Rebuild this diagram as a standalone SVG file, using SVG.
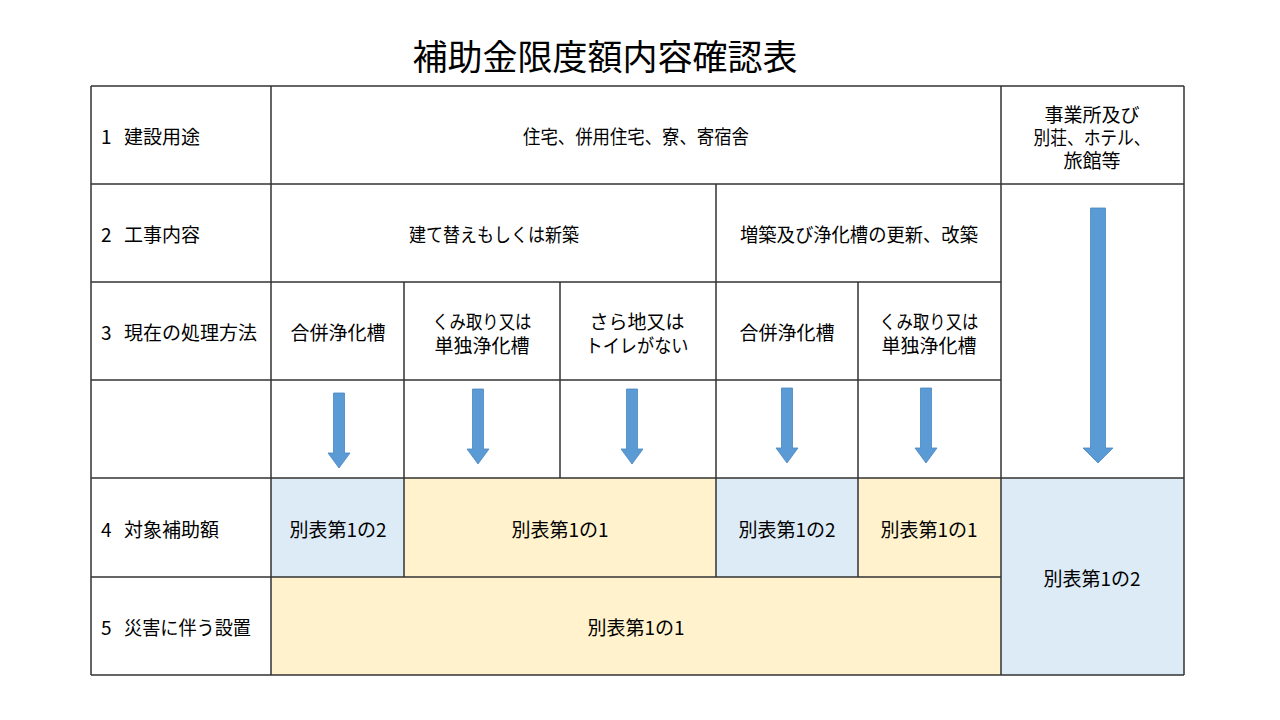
<svg xmlns="http://www.w3.org/2000/svg" width="1280" height="720" viewBox="0 0 1280 720">
<style>
text{font-family:"Noto Sans CJK JP","Noto Sans CJK SC",sans-serif;fill:#000}
.t{font-size:19px;text-anchor:middle;dominant-baseline:central}
.l{font-size:19px;dominant-baseline:central}
.ln{stroke:#333;stroke-width:1.5;fill:none}
.blue{fill:#DDEBF7}
.yel{fill:#FFF2CC}
.arr{fill:#5B9BD5;stroke:#4A86C0;stroke-width:0.8}
</style>
<defs>
<path id="sa" d="M-5.5,0 H5.5 V60 H11 L0,75 L-11,60 H-5.5 Z"/>
</defs>
<rect width="1280" height="720" fill="#fff"/>
<text x="605" y="54" font-size="35" text-anchor="middle" dominant-baseline="central">補助金限度額内容確認表</text>

<g id="fills">
<rect class="blue" x="271" y="478" width="133" height="99"/>
<rect class="yel" x="404" y="478" width="312" height="99"/>
<rect class="blue" x="716" y="478" width="142" height="99"/>
<rect class="yel" x="858" y="478" width="143" height="99"/>
<rect class="yel" x="271" y="577" width="730" height="98"/>
<rect class="blue" x="1001" y="478" width="183" height="197"/>
</g>

<g id="grid">
<path class="ln" d="M91,86 H1184 M91,184 H1184 M91,282 H1001 M91,380 H1001 M91,478 H1184 M91,577 H1001 M91,675 H1184"/>
<path class="ln" d="M91,86 V675 M271,86 V675 M404,282 V577 M560,282 V478 M716,184 V577 M858,282 V577 M1001,86 V675 M1184,86 V675"/>
</g>

<g id="labels">
<text class="l" x="101" y="135">1</text><text class="l" x="124" y="135">建設用途</text>
<text class="l" x="101" y="233">2</text><text class="l" x="124" y="233">工事内容</text>
<text class="l" x="101" y="331">3</text><text class="l" x="124" y="331">現在の処理方法</text>
<text class="l" x="101" y="528">4</text><text class="l" x="124" y="528">対象補助額</text>
<text class="l" x="101" y="626">5</text><text class="l" x="124" y="626" textLength="127" lengthAdjust="spacingAndGlyphs">災害に伴う設置</text>
</g>

<g id="row1">
<text class="t" x="636" y="135" textLength="226" lengthAdjust="spacingAndGlyphs">住宅、併用住宅、寮、寄宿舎</text>
<text class="t" x="1092" y="113">事業所及び</text>
<text class="t" x="1092" y="136" textLength="117" lengthAdjust="spacingAndGlyphs">別荘、ホテル、</text>
<text class="t" x="1092" y="159">旅館等</text>
</g>

<g id="row2">
<text class="t" x="494" y="233" textLength="170" lengthAdjust="spacingAndGlyphs">建て替えもしくは新築</text>
<text class="t" x="859" y="233" textLength="238" lengthAdjust="spacingAndGlyphs">増築及び浄化槽の更新、改築</text>
</g>

<g id="row3">
<text class="t" x="338" y="331">合併浄化槽</text>
<text class="t" x="482" y="320" textLength="99" lengthAdjust="spacingAndGlyphs">くみ取り又は</text>
<text class="t" x="482" y="344">単独浄化槽</text>
<text class="t" x="637" y="320">さら地又は</text>
<text class="t" x="637" y="344" textLength="103" lengthAdjust="spacingAndGlyphs">トイレがない</text>
<text class="t" x="787" y="331">合併浄化槽</text>
<text class="t" x="929" y="320" textLength="99" lengthAdjust="spacingAndGlyphs">くみ取り又は</text>
<text class="t" x="929" y="344">単独浄化槽</text>
</g>

<g id="arrows">
<use href="#sa" class="arr" x="339" y="393"/>
<use href="#sa" class="arr" x="478" y="389"/>
<use href="#sa" class="arr" x="632" y="389"/>
<use href="#sa" class="arr" x="787" y="388"/>
<use href="#sa" class="arr" x="926" y="388"/>
<path class="arr" d="M1090.5,208 H1105.5 V448 H1113 L1098,463 L1083,448 H1090.5 Z"/>
</g>

<g id="row4">
<text class="t" x="338" y="528">別表第1の2</text>
<text class="t" x="560" y="528">別表第1の1</text>
<text class="t" x="787" y="528">別表第1の2</text>
<text class="t" x="929" y="528">別表第1の1</text>
<text class="t" x="1092" y="577">別表第1の2</text>
</g>

<g id="row5">
<text class="t" x="636" y="626">別表第1の1</text>
</g>
</svg>
